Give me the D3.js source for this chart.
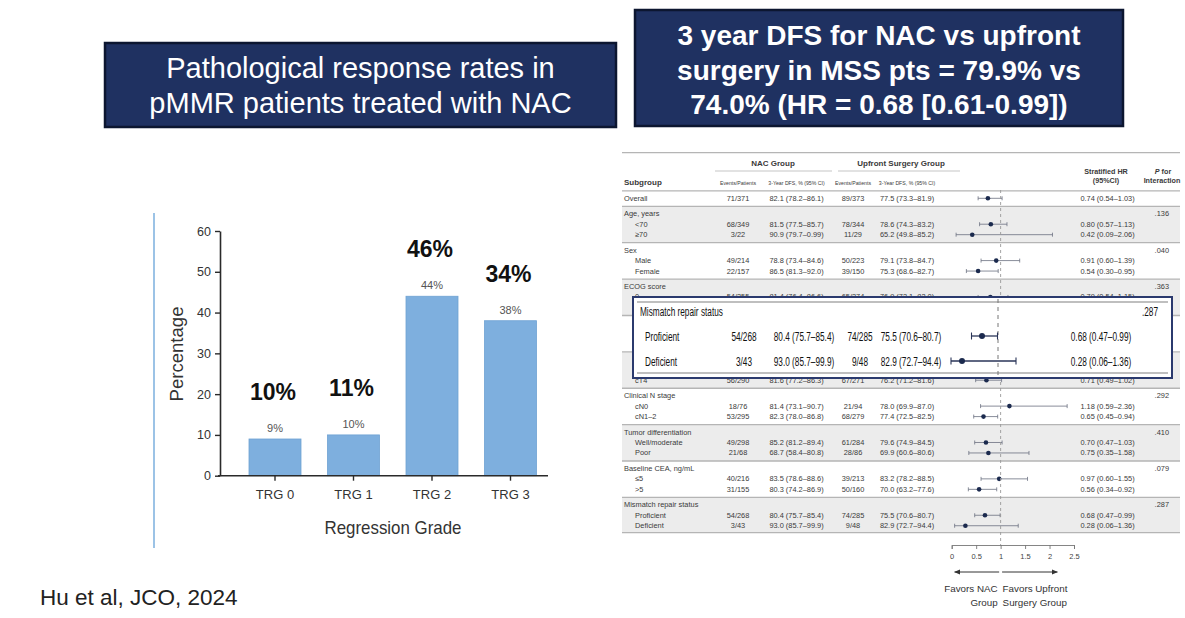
<!DOCTYPE html>
<html><head><meta charset="utf-8">
<script src="https://cdn.jsdelivr.net/npm/d3@7"></script>
<style>
html,body{margin:0;padding:0;background:#fff;}
svg{display:block;font-family:"Liberation Sans",Arial,sans-serif;}
</style></head><body>
<svg id="c" width="1185" height="618"></svg>
<script>
// ---------------- DATA ----------------
const trgCategories = ["TRG 0", "TRG 1", "TRG 2", "TRG 3"];
const trgValues = [9, 10, 44, 38];
const trgOverlayValues = [10, 11, 46, 34];
const yTickValues = [0, 10, 20, 30, 40, 50, 60];

const leftTitle = ["Pathological response rates in", "pMMR patients treated with NAC"];
const rightTitle = ["3 year DFS for NAC vs upfront", "surgery in MSS pts = 79.9% vs", "74.0% (HR = 0.68 [0.61-0.99])"];
const citation = "Hu et al, JCO, 2024";

// rows hidden behind the highlight box keep their slot but carry no text
const rowLabels = ["Overall", "Age, years", "<70", "\u226570", "Sex", "Male", "Female",
  "ECOG score", "0", "", "", "", "", "", "", "cT4",
  "Clinical N stage", "cN0", "cN1\u20132", "Tumor differentiation", "Well/moderate", "Poor",
  "Baseline CEA, ng/mL", "\u22645", ">5", "Mismatch repair status", "Proficient", "Deficient"];
const rowGroup = [0, 1, 1, 1, 2, 2, 2, 3, 3, 3, 4, 4, 4, 5, 5, 5, 6, 6, 6, 7, 7, 7, 8, 8, 8, 9, 9, 9];
const rowIsSub = [0, 0, 1, 1, 0, 1, 1, 0, 1, 1, 0, 1, 1, 0, 1, 1, 0, 1, 1, 0, 1, 1, 0, 1, 1, 0, 1, 1];
const nacEvents = ["71/371", null, "68/349", "3/22", null, "49/214", "22/157", null, "54/255", null, null, null, null, null, null, "56/290",
  null, "18/76", "53/295", null, "49/298", "21/68", null, "40/216", "31/155", null, "54/268", "3/43"];
const nacDFS = ["82.1 (78.2\u201386.1)", null, "81.5 (77.5\u201385.7)", "90.9 (79.7\u20130.99)", null, "78.8 (73.4\u201384.6)", "86.5 (81.3\u201392.0)",
  null, "81.4 (76.4\u201386.6)", null, null, null, null, null, null, "81.6 (77.2\u201386.3)",
  null, "81.4 (73.1\u201390.7)", "82.3 (78.0\u201386.8)", null, "85.2 (81.2\u201389.4)", "68.7 (58.4\u201380.8)",
  null, "83.5 (78.6\u201388.6)", "80.3 (74.2\u201386.9)", null, "80.4 (75.7\u201385.4)", "93.0 (85.7\u201399.9)"];
const upEvents = ["89/373", null, "78/344", "11/29", null, "50/223", "39/150", null, "65/274", null, null, null, null, null, null, "67/271",
  null, "21/94", "68/279", null, "61/284", "28/86", null, "39/213", "50/160", null, "74/285", "9/48"];
const upDFS = ["77.5 (73.3\u201381.9)", null, "78.6 (74.3\u201383.2)", "65.2 (49.8\u201385.2)", null, "79.1 (73.8\u201384.7)", "75.3 (68.6\u201382.7)",
  null, "76.9 (72.1\u201382.0)", null, null, null, null, null, null, "76.2 (71.2\u201381.6)",
  null, "78.0 (69.9\u201387.0)", "77.4 (72.5\u201382.5)", null, "79.6 (74.9\u201384.5)", "69.9 (60.6\u201380.6)",
  null, "83.2 (78.2\u201388.5)", "70.0 (63.2\u201377.6)", null, "75.5 (70.6\u201380.7)", "82.9 (72.7\u201394.4)"];
const hrEst = [0.74, null, 0.80, 0.42, null, 0.91, 0.54, null, 0.79, null, null, null, null, null, null, 0.71,
  null, 1.18, 0.65, null, 0.70, 0.75, null, 0.97, 0.56, null, 0.68, 0.28];
const hrLow = [0.54, null, 0.57, 0.09, null, 0.60, 0.30, null, 0.54, null, null, null, null, null, null, 0.49,
  null, 0.59, 0.45, null, 0.47, 0.35, null, 0.60, 0.34, null, 0.47, 0.06];
const hrHigh = [1.03, null, 1.13, 2.06, null, 1.39, 0.95, null, 1.15, null, null, null, null, null, null, 1.02,
  null, 2.36, 0.94, null, 1.03, 1.58, null, 1.55, 0.92, null, 0.99, 1.36];
const pInteraction = [null, ".136", null, null, ".040", null, null, ".363", null, null, null, null, null, null, null, null,
  ".292", null, null, ".410", null, null, ".079", null, null, ".287", null, null];
const hrAxisTicks = [0, 0.5, 1, 1.5, 2, 2.5];

// Highlighted (zoomed) rows
const boxHeader = "Mismatch repair status";
const boxP = ".287";
const boxLabels = ["Proficient", "Deficient"];
const boxNacEvents = ["54/268", "3/43"];
const boxNacDFS = ["80.4 (75.7\u201385.4)", "93.0 (85.7\u201399.9)"];
const boxUpEvents = ["74/285", "9/48"];
const boxUpDFS = ["75.5 (70.6\u201380.7)", "82.9 (72.7\u201394.4)"];
const boxHr = [0.68, 0.28];
const boxHrLow = [0.47, 0.06];
const boxHrHigh = [0.99, 1.36];

// ---------------- DRAW ----------------
const svg = d3.select("#c");
const NAVY = "#1f3161";

function titleBox(x, y, w, h, lines, size, weight, lineY) {
  svg.append("rect").attr("x", x).attr("y", y).attr("width", w).attr("height", h)
    .attr("fill", NAVY).attr("stroke", "#0c1630").attr("stroke-width", 2.5);
  svg.append("g").selectAll("text").data(lines).join("text")
    .attr("x", x + w / 2).attr("y", (d, i) => lineY[i])
    .attr("text-anchor", "middle").attr("dominant-baseline", "central")
    .attr("fill", "#fff").attr("font-size", size).attr("font-weight", weight).text(d => d);
}
titleBox(105, 43, 511, 84, leftTitle, 29, 400, [68, 103]);
titleBox(635, 10, 488, 116, rightTitle, 28, 700, [35, 70, 104]);

svg.append("text").attr("x", 40).attr("y", 597).attr("dominant-baseline", "central")
  .attr("font-size", 22.5).attr("fill", "#222").text(citation);

// ---------------- BAR CHART ----------------
svg.append("line").attr("x1", 154).attr("x2", 154).attr("y1", 213).attr("y2", 548)
  .attr("stroke", "#9cc3e6").attr("stroke-width", 2);

const bx = d3.scaleBand().domain(trgCategories).range([233.3, 552.2]).paddingInner(0.3376).paddingOuter(0.2);
const by = d3.scaleLinear().domain([0, 60]).range([475.7, 231]);
const axisColor = "#2a2a2a";

const gy = svg.append("g").attr("transform", "translate(220,0)")
  .call(d3.axisLeft(by).tickValues(yTickValues).tickSize(5).tickSizeOuter(0).tickPadding(4));
gy.select(".domain").attr("stroke", axisColor).attr("stroke-width", 1.6);
gy.selectAll(".tick line").attr("stroke", axisColor).attr("stroke-width", 1.4);
gy.selectAll(".tick text").attr("font-size", 12.5).attr("fill", "#333").attr("font-family", "Liberation Sans, Arial");

svg.append("g").selectAll("rect").data(trgValues).join("rect")
  .attr("x", (d, i) => bx(trgCategories[i])).attr("width", bx.bandwidth())
  .attr("y", d => by(d)).attr("height", d => by(0) - by(d))
  .attr("fill", "#7eafde").attr("stroke", "#6fa2d3").attr("stroke-width", 0.8);

const gx = svg.append("g").attr("transform", `translate(0,${by(0)})`)
  .call(d3.axisBottom(bx).tickSize(5).tickSizeOuter(0).tickPadding(9));
gx.select(".domain").attr("d", `M218,0H548`).attr("stroke", axisColor).attr("stroke-width", 1.6);
gx.selectAll(".tick line").attr("stroke", axisColor).attr("stroke-width", 1.4);
gx.selectAll(".tick text").attr("font-size", 13).attr("fill", "#333").attr("font-family", "Liberation Sans, Arial");

svg.append("g").selectAll("text").data(trgValues).join("text")
  .attr("x", (d, i) => bx(trgCategories[i]) + bx.bandwidth() / 2).attr("y", d => by(d) - 7)
  .attr("text-anchor", "middle").attr("font-size", 11).attr("fill", "#555").text(d => d + "%");

svg.append("g").selectAll("text").data(trgOverlayValues).join("text")
  .attr("x", (d, i) => bx(trgCategories[i]) + bx.bandwidth() / 2 - 2)
  .attr("y", (d, i) => by(trgValues[i]) - 39)
  .attr("text-anchor", "middle").attr("font-size", 23).attr("font-weight", 700).attr("fill", "#111").text(d => d + "%");

svg.append("text").attr("transform", "translate(176,354) rotate(-90)")
  .attr("text-anchor", "middle").attr("dominant-baseline", "central")
  .attr("font-size", 19).attr("fill", "#333").attr("textLength", 95).attr("lengthAdjust", "spacingAndGlyphs").text("Percentage");
svg.append("text").attr("x", 393).attr("y", 527)
  .attr("text-anchor", "middle").attr("dominant-baseline", "central")
  .attr("font-size", 19).attr("fill", "#333").attr("textLength", 137).attr("lengthAdjust", "spacingAndGlyphs").text("Regression Grade");

// ---------------- FOREST TABLE ----------------
const fx = d3.scaleLinear().domain([0, 2.5]).range([951.7, 1074]);
const rowH = 10.47, grpGap = 4.97;
const ry = i => 198.3 + i * rowH + rowGroup[i] * grpGap;
const TL = 622, TR = 1180;
const tcol = "#3a3a3a";
const nRows = rowLabels.length;
const groupIdx = d3.range(10);
const groupTop = g => ry(rowGroup.indexOf(g)) - 7.4;
const tableBottom = ry(nRows - 1) + 7;
const groupBottom = g => g < 9 ? groupTop(g + 1) : tableBottom;

const ft = svg.append("g").attr("font-size", 7.4).attr("fill", tcol);
ft.append("g").selectAll("rect").data(groupIdx.filter(g => g % 2 === 1)).join("rect")
  .attr("x", TL).attr("width", TR - TL).attr("y", d => groupTop(d)).attr("height", d => groupBottom(d) - groupTop(d))
  .attr("fill", "#ececec");
ft.append("g").selectAll("line").data(groupIdx.map(groupTop).concat([tableBottom])).join("line")
  .attr("x1", TL).attr("x2", TR).attr("y1", d => d).attr("y2", d => d).attr("stroke", "#b5b5b5").attr("stroke-width", 1.3);
ft.append("line").attr("x1", TL).attr("x2", TR).attr("y1", 152.7).attr("y2", 152.7).attr("stroke", "#b5b5b5").attr("stroke-width", 1.3);
ft.append("line").attr("x1", 715).attr("x2", 832).attr("y1", 171).attr("y2", 171).attr("stroke", "#c5c5c5").attr("stroke-width", 1.2);
ft.append("line").attr("x1", 838).attr("x2", 960).attr("y1", 171).attr("y2", 171).attr("stroke", "#c5c5c5").attr("stroke-width", 1.2);

ft.append("text").attr("x", 773).attr("y", 163).attr("text-anchor", "middle").attr("dominant-baseline", "central")
  .attr("font-weight", 700).attr("font-size", 8).text("NAC Group");
ft.append("text").attr("x", 901).attr("y", 163).attr("text-anchor", "middle").attr("dominant-baseline", "central")
  .attr("font-weight", 700).attr("font-size", 8).text("Upfront Surgery Group");
ft.append("text").attr("x", 624).attr("y", 182).attr("dominant-baseline", "central")
  .attr("font-weight", 700).attr("font-size", 8).text("Subgroup");
const colX = [738, 796.5, 853, 907];
const subHead = ["Events/Patients", "3-Year DFS, % (95% CI)", "Events/Patients", "3-Year DFS, % (95% CI)"];
ft.append("g").selectAll("text").data(subHead).join("text")
  .attr("x", (d, i) => colX[i]).attr("y", 182.5).attr("text-anchor", "middle").attr("dominant-baseline", "central")
  .attr("font-size", 5.2).text(d => d);
ft.append("text").attr("x", 1106).attr("y", 171).attr("text-anchor", "middle").attr("dominant-baseline", "central")
  .attr("font-weight", 700).attr("font-size", 7.2).text("Stratified HR");
ft.append("text").attr("x", 1106).attr("y", 180).attr("text-anchor", "middle").attr("dominant-baseline", "central")
  .attr("font-weight", 700).attr("font-size", 7.2).text("(95%CI)");
const pt = ft.append("text").attr("x", 1163).attr("y", 171).attr("text-anchor", "middle").attr("dominant-baseline", "central")
  .attr("font-weight", 700).attr("font-size", 7.2);
pt.append("tspan").attr("font-style", "italic").text("P");
pt.append("tspan").text(" for");
ft.append("text").attr("x", 1162).attr("y", 180).attr("text-anchor", "middle").attr("dominant-baseline", "central")
  .attr("font-weight", 700).attr("font-size", 7.2).text("Interaction");

const rowsG = ft.append("g").selectAll("g").data(d3.range(nRows)).join("g")
  .attr("transform", i => `translate(0,${ry(i)})`);
rowsG.filter(i => rowLabels[i]).append("text").attr("x", i => rowIsSub[i] ? 635 : 624).attr("dominant-baseline", "central").text(i => rowLabels[i]);
[nacEvents, nacDFS, upEvents, upDFS].forEach((arr, c) => {
  rowsG.filter(i => arr[i]).append("text").attr("x", colX[c]).attr("text-anchor", "middle")
    .attr("dominant-baseline", "central").text(i => arr[i]);
});
const f2 = d3.format(".2f");
rowsG.filter(i => hrEst[i] != null).append("text").attr("x", 1107.5).attr("text-anchor", "middle")
  .attr("dominant-baseline", "central").text(i => `${f2(hrEst[i])} (${f2(hrLow[i])}\u2013${f2(hrHigh[i])})`);
rowsG.filter(i => pInteraction[i]).append("text").attr("x", 1169).attr("text-anchor", "end")
  .attr("dominant-baseline", "central").text(i => pInteraction[i]);

ft.append("line").attr("x1", fx(1)).attr("x2", fx(1)).attr("y1", 190).attr("y2", 545)
  .attr("stroke", "#999").attr("stroke-width", 0.9).attr("stroke-dasharray", "3,3");

const ci = rowsG.filter(i => hrEst[i] != null);
ci.append("line").attr("x1", i => fx(hrLow[i])).attr("x2", i => fx(hrHigh[i]))
  .attr("stroke", "#6b7080").attr("stroke-width", 0.8);
ci.append("line").attr("x1", i => fx(hrLow[i])).attr("x2", i => fx(hrLow[i])).attr("y1", -2).attr("y2", 2)
  .attr("stroke", "#6b7080").attr("stroke-width", 0.8);
ci.append("line").attr("x1", i => fx(hrHigh[i])).attr("x2", i => fx(hrHigh[i])).attr("y1", -2).attr("y2", 2)
  .attr("stroke", "#6b7080").attr("stroke-width", 0.8);
ci.append("circle").attr("cx", i => fx(hrEst[i])).attr("r", 2.3).attr("fill", "#1b2a4e");

const ga = svg.append("g").attr("transform", "translate(0,545)")
  .call(d3.axisBottom(fx).tickValues(hrAxisTicks).tickSize(4).tickSizeOuter(4).tickPadding(5).tickFormat(d3.format("")));
ga.select(".domain").attr("stroke", "#777").attr("stroke-width", 0.9);
ga.selectAll(".tick line").attr("stroke", "#777").attr("stroke-width", 0.9);
ga.selectAll(".tick text").attr("font-size", 7.5).attr("fill", "#444");

const defs = svg.append("defs");
defs.append("marker").attr("id", "ah").attr("viewBox", "0 0 10 10").attr("refX", 9).attr("refY", 5)
  .attr("markerWidth", 6).attr("markerHeight", 6).attr("orient", "auto-start-reverse")
  .append("path").attr("d", "M0,1L10,5L0,9z").attr("fill", "#333");
svg.append("line").attr("x1", fx(0.97)).attr("x2", fx(0.06)).attr("y1", 572).attr("y2", 572)
  .attr("stroke", "#333").attr("stroke-width", 1).attr("marker-end", "url(#ah)");
svg.append("line").attr("x1", fx(1.03)).attr("x2", fx(2.16)).attr("y1", 572).attr("y2", 572)
  .attr("stroke", "#333").attr("stroke-width", 1).attr("marker-end", "url(#ah)");
const fav = svg.append("g").attr("font-size", 9.8).attr("fill", "#333");
fav.append("text").attr("x", fx(1) - 3).attr("y", 588).attr("text-anchor", "end").attr("dominant-baseline", "central").text("Favors NAC");
fav.append("text").attr("x", fx(1) - 3).attr("y", 602).attr("text-anchor", "end").attr("dominant-baseline", "central").text("Group");
fav.append("text").attr("x", fx(1) + 2).attr("y", 588).attr("dominant-baseline", "central").text("Favors Upfront");
fav.append("text").attr("x", fx(1) + 2).attr("y", 602).attr("dominant-baseline", "central").text("Surgery Group");

// ---------------- HIGHLIGHT BOX ----------------
const bxs = d3.scaleLinear().domain([0, 2.5]).range([948, 1073]);
const box = svg.append("g");
box.append("rect").attr("x", 633).attr("y", 297).attr("width", 539).attr("height", 81)
  .attr("fill", "#fff").attr("stroke", "#2b3a6e").attr("stroke-width", 2);
box.append("line").attr("x1", 637).attr("x2", 1168).attr("y1", 302).attr("y2", 302).attr("stroke", "#aaa").attr("stroke-width", 1.3);
box.append("line").attr("x1", 637).attr("x2", 1168).attr("y1", 373).attr("y2", 373).attr("stroke", "#aaa").attr("stroke-width", 1.3);
box.append("line").attr("x1", bxs(1)).attr("x2", bxs(1)).attr("y1", 299).attr("y2", 376)
  .attr("stroke", "#777").attr("stroke-width", 1).attr("stroke-dasharray", "4,4");
const SX = 0.66;
function ctext(g, x, y, s, anchor) {
  return g.append("text").attr("transform", `translate(${x},${y}) scale(${SX},1)`)
    .attr("text-anchor", anchor || "start").attr("dominant-baseline", "central")
    .attr("font-size", 12.5).attr("fill", "#111").text(s);
}
ctext(box, 640, 311, boxHeader);
ctext(box, 1150, 311, boxP, "middle");
const bRowY = [336, 361];
const bCols = [744, 804, 860, 911];
boxLabels.forEach((lab, i) => {
  ctext(box, 645, bRowY[i], lab);
  [boxNacEvents, boxNacDFS, boxUpEvents, boxUpDFS].forEach((arr, c) => ctext(box, bCols[c], bRowY[i], arr[i], "middle"));
  ctext(box, 1101, bRowY[i], `${f2(boxHr[i])} (${f2(boxHrLow[i])}\u2013${f2(boxHrHigh[i])})`, "middle");
  box.append("line").attr("x1", bxs(boxHrLow[i])).attr("x2", bxs(boxHrHigh[i])).attr("y1", bRowY[i]).attr("y2", bRowY[i])
    .attr("stroke", "#2a3558").attr("stroke-width", 1.3);
  [boxHrLow[i], boxHrHigh[i]].forEach(v => box.append("line").attr("x1", bxs(v)).attr("x2", bxs(v))
    .attr("y1", bRowY[i] - 3.5).attr("y2", bRowY[i] + 3.5).attr("stroke", "#2a3558").attr("stroke-width", 1.1));
  box.append("circle").attr("cx", bxs(boxHr[i])).attr("cy", bRowY[i]).attr("r", 3).attr("fill", "#1b2a4e");
});
</script>
</body></html>
